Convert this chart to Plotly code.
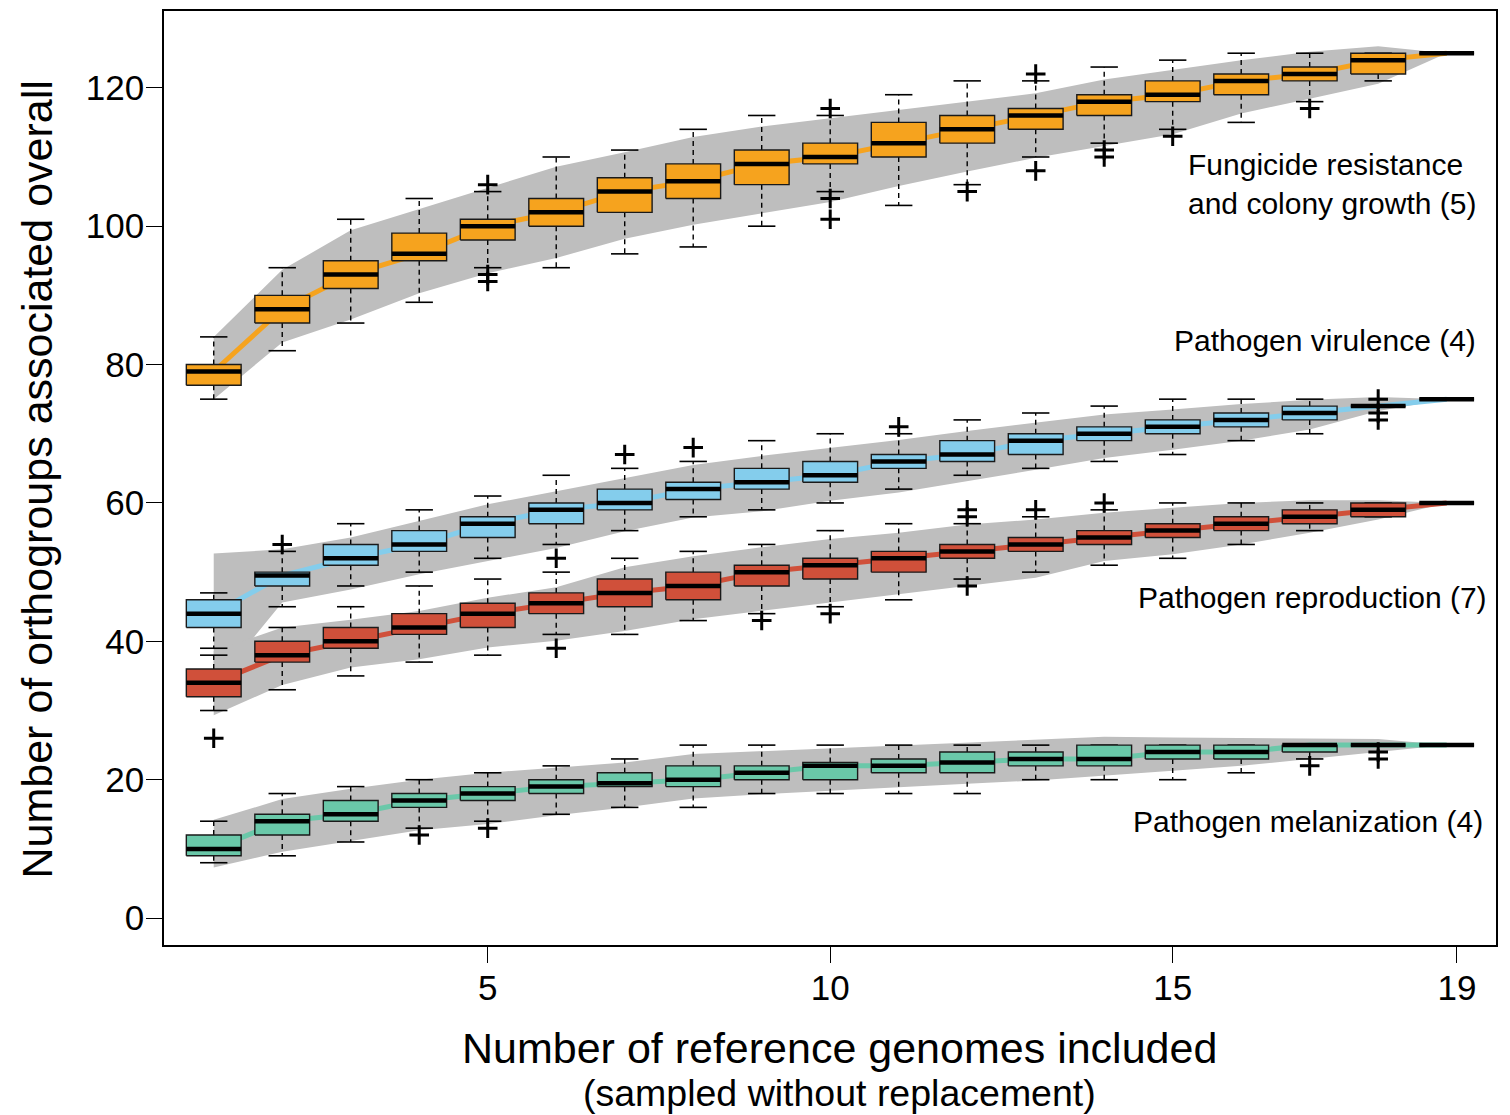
import plotly.graph_objects as go

# ---------------- data ----------------
positions = list(range(1, 20))

# Fungicide resistance and colony growth (orange)
fung_q1 = [77, 86, 91, 95, 98, 100, 102, 104, 106, 109, 110, 112, 114, 116, 118, 119, 121, 122, 125]
fung_med = [79, 88, 93, 96, 100, 102, 105, 106.5, 109, 110, 112, 114, 116, 118, 119, 121, 122, 124, 125]
fung_q3 = [80, 90, 95, 99, 101, 104, 107, 109, 111, 112, 115, 116, 117, 119, 121, 122, 123, 125, 125]
fung_lo = [75, 82, 86, 89, 94, 94, 96, 97, 100, 105, 103, 106, 110, 112, 114, 115, 118, 121, 125]
fung_hi = [84, 94, 101, 104, 105, 110, 111, 114, 116, 116, 119, 121, 121, 123, 124, 125, 125, 125, 125]
fung_out = {5: [106, 93, 92], 10: [117, 104, 101], 12: [105], 13: [122, 108], 14: [111, 110], 15: [113], 17: [117]}
fung_band_hi = [84, 93.7, 99.4, 102.5, 105.5, 108.6, 110.7, 112.9, 114.4, 115.6, 116.9, 118, 119.2, 121.2, 122.6, 124, 125.2, 126, 125]
fung_band_lo = [75, 83.2, 86.5, 90.3, 93.2, 95.4, 98.2, 100.2, 101.9, 103.5, 105.8, 107.9, 109.9, 111.6, 113.3, 116.3, 118.4, 120.6, 125]

# Pathogen virulence (blue)
vir_q1 = [42, 48, 51, 53, 55, 57, 59, 60.5, 62, 63, 65, 66, 67, 69, 70, 71, 72, 74, 75]
vir_med = [44, 49.5, 52, 54, 57, 59, 60, 62, 63, 64, 66, 67, 69, 70, 71, 72, 73, 74, 75]
vir_q3 = [46, 50, 54, 56, 58, 60, 62, 63, 65, 66, 67, 69, 70, 71, 72, 73, 74, 74, 75]
vir_lo = [39, 45, 48, 50, 52, 54, 56, 58, 59, 60, 62, 64, 65, 66, 67, 69, 70, 74, 75]
vir_hi = [47, 53, 57, 59, 61, 64, 65, 66, 69, 70, 70, 72, 73, 74, 75, 75, 75, 74, 75]
vir_out = {2: [54], 7: [67], 8: [68], 11: [71], 18: [75, 73, 72]}
vir_band_hi = [52.7, 53.3, 55, 57.4, 59.8, 61.7, 63.6, 65.5, 66.8, 67.9, 69.1, 70.4, 71.6, 72.8, 73.5, 74.3, 74.9, 75.3, 75]
vir_band_lo = [33.5, 45.6, 47.5, 49.7, 51.6, 53.5, 55.9, 57.9, 58.8, 60.3, 61.5, 63.2, 64.8, 66.5, 67.7, 69, 70.6, 73.3, 75]

# Pathogen reproduction (red)
rep_q1 = [32, 37, 39, 41, 42, 44, 45, 46, 48, 49, 50, 52, 53, 54, 55, 56, 57, 58, 60]
rep_med = [34, 38, 40, 42, 44, 45.5, 47, 48, 50, 51, 52, 53, 54, 55, 56, 57, 58, 59, 60]
rep_q3 = [36, 40, 42, 44, 45.5, 47, 49, 50, 51, 52, 53, 54, 55, 56, 57, 58, 59, 60, 60]
rep_lo = [30, 33, 35, 37, 38, 41, 41, 43, 44, 45, 46, 49, 50, 51, 52, 54, 56, 58, 60]
rep_hi = [38, 42, 45, 48, 49, 50, 52, 53, 54, 56, 57, 57, 58, 59, 60, 60, 60, 60, 60]
rep_out = {1: [26], 6: [52, 39], 9: [43], 10: [44], 12: [59, 58, 48], 13: [59], 14: [60]}
rep_band_hi = [38.6, 42, 43.1, 44.4, 46.3, 47.8, 50.7, 52.3, 53.6, 54.8, 55.7, 56.9, 57.6, 58.6, 59.3, 60, 60.4, 60.4, 60]
rep_band_lo = [29.3, 33.7, 36.2, 37.4, 39.1, 40.1, 41.5, 43.2, 44.4, 45.6, 46.8, 48, 49.2, 51.6, 52.6, 54, 55.7, 57.6, 60]

# Pathogen melanization (green)
mel_q1 = [9, 12, 14, 16, 17, 18, 19, 19, 20, 20, 21, 21, 22, 22, 23, 23, 24, 25, 25]
mel_med = [10, 14, 15, 17, 18, 19, 19.5, 20, 21, 22, 22, 22.5, 23, 23, 24, 24, 25, 25, 25]
mel_q3 = [12, 15, 17, 18, 19, 20, 21, 22, 22, 22.5, 23, 24, 24, 25, 25, 25, 25, 25, 25]
mel_lo = [8, 9, 11, 13, 14, 15, 16, 16, 18, 18, 18, 18, 20, 20, 20, 21, 23, 25, 25]
mel_hi = [14, 18, 19, 20, 21, 22, 23, 25, 25, 25, 25, 25, 25, 25, 25, 25, 25, 25, 25]
mel_out = {4: [12], 5: [13], 17: [22], 18: [24, 23]}
mel_band_hi = [14.2, 17.2, 18.7, 20, 21, 21.8, 22.5, 23.7, 24.1, 24.5, 24.9, 25.4, 25.7, 26.2, 26.1, 26, 25.9, 25.9, 25]
mel_band_lo = [7.3, 9.6, 11.2, 12.7, 13.6, 14.85, 16, 17.3, 17.9, 18.5, 18.9, 19.4, 19.9, 20.6, 21.3, 22, 23, 24, 25]

x_tick_vals = [5, 10, 15, 19.15]
x_tick_text = ["5", "10", "15", "19"]
y_tick_vals = [0, 20, 40, 60, 80, 100, 120]

labels = {
    "fung": "Fungicide resistance<br>and colony growth (5)",
    "vir": "Pathogen virulence (4)",
    "rep": "Pathogen reproduction (7)",
    "mel": "Pathogen melanization (4)",
}

# ---------------- styling ----------------
FONT = "Liberation Sans, Arial, Helvetica, sans-serif"
BAND = "#BEBEBE"
HALF_BOX = 0.4
HALF_CAP = 0.2

series = [
    dict(key="fung", color="#F6A31E", q1=fung_q1, med=fung_med, q3=fung_q3, lo=fung_lo, hi=fung_hi,
         out=fung_out, blo=fung_band_lo, bhi=fung_band_hi),
    dict(key="vir", color="#84CDEC", q1=vir_q1, med=vir_med, q3=vir_q3, lo=vir_lo, hi=vir_hi,
         out=vir_out, blo=vir_band_lo, bhi=vir_band_hi),
    dict(key="rep", color="#D0503A", q1=rep_q1, med=rep_med, q3=rep_q3, lo=rep_lo, hi=rep_hi,
         out=rep_out, blo=rep_band_lo, bhi=rep_band_hi),
    dict(key="mel", color="#6AC8A9", q1=mel_q1, med=mel_med, q3=mel_q3, lo=mel_lo, hi=mel_hi,
         out=mel_out, blo=mel_band_lo, bhi=mel_band_hi),
]

fig = go.Figure()

# 1. grey envelopes
for s in series:
    fig.add_trace(go.Scatter(
        x=positions + positions[::-1], y=s["bhi"] + s["blo"][::-1],
        mode="lines", fill="toself", fillcolor=BAND, line=dict(width=0, color=BAND),
        hoverinfo="skip", showlegend=False))

# 2. coloured median lines
for s in series:
    fig.add_trace(go.Scatter(x=positions, y=s["med"], mode="lines",
                             line=dict(color=s["color"], width=5), showlegend=False, hoverinfo="skip"))

# 3. whiskers (dashed) and staples
for s in series:
    wx, wy, cx, cy = [], [], [], []
    for x, a, b, l, h in zip(positions, s["q1"], s["q3"], s["lo"], s["hi"]):
        if h > b:
            wx += [x, x, None]; wy += [b, h, None]
        if l < a:
            wx += [x, x, None]; wy += [a, l, None]
        cx += [x - HALF_CAP, x + HALF_CAP, None, x - HALF_CAP, x + HALF_CAP, None]
        cy += [h, h, None, l, l, None]
    fig.add_trace(go.Scatter(x=wx, y=wy, mode="lines", line=dict(color="black", width=1.4, dash="5px,4px"),
                             showlegend=False, hoverinfo="skip"))
    fig.add_trace(go.Scatter(x=cx, y=cy, mode="lines", line=dict(color="black", width=1.6),
                             showlegend=False, hoverinfo="skip"))

# 4. boxes
for s in series:
    bx, by = [], []
    for x, a, b in zip(positions, s["q1"], s["q3"]):
        bx += [x - HALF_BOX, x + HALF_BOX, x + HALF_BOX, x - HALF_BOX, x - HALF_BOX, None]
        by += [a, a, b, b, a, None]
    fig.add_trace(go.Scatter(x=bx, y=by, mode="lines", fill="toself", fillcolor=s["color"],
                             line=dict(color="#1a1a1a", width=1.4), showlegend=False, hoverinfo="skip"))

# 5. thick medians
for s in series:
    mx, my = [], []
    for x, m in zip(positions, s["med"]):
        mx += [x - HALF_BOX, x + HALF_BOX, None]
        my += [m, m, None]
    fig.add_trace(go.Scatter(x=mx, y=my, mode="lines", line=dict(color="black", width=4.5),
                             showlegend=False, hoverinfo="skip"))

# 6. outliers
for s in series:
    ox, oy = [], []
    for x, vals in s["out"].items():
        for v in vals:
            ox.append(x); oy.append(v)
    fig.add_trace(go.Scatter(x=ox, y=oy, mode="markers",
                             marker=dict(symbol="cross-thin", size=14, line=dict(color="black", width=3)),
                             showlegend=False, hoverinfo="skip"))

# ---------------- layout ----------------
L, R, T, B = 164, 14, 9, 170
W, H = 1510, 1115
x_range = [0.274, 19.72]
y_range = [-3.89, 131.1]


def px_to_x(px):
    return x_range[0] + (px - L) / (W - L - R) * (x_range[1] - x_range[0])


def px_to_y(py):
    return y_range[0] + ((H - B) - py) / (H - B - T) * (y_range[1] - y_range[0])


ANN_SIZE = 30
annotations = [
    dict(x=px_to_x(1186), y=px_to_y(182), text=labels["fung"], xanchor="left", yanchor="middle", align="left",
         font=dict(size=ANN_SIZE, color="black", family=FONT), showarrow=False),
    dict(x=px_to_x(1325), y=px_to_y(339), text=labels["vir"], xanchor="center", yanchor="middle",
         font=dict(size=ANN_SIZE, color="black", family=FONT), showarrow=False),
    dict(x=px_to_x(1312), y=px_to_y(597), text=labels["rep"], xanchor="center", yanchor="middle",
         font=dict(size=ANN_SIZE, color="black", family=FONT), showarrow=False),
    dict(x=px_to_x(1308), y=px_to_y(821), text=labels["mel"], xanchor="center", yanchor="middle",
         font=dict(size=ANN_SIZE, color="black", family=FONT), showarrow=False),
    dict(xref="paper", yref="paper", x=(839.5 - L) / (W - L - R), y=-(1048 - (H - B)) / (H - B - T),
         text="Number of reference genomes included", xanchor="center", yanchor="middle",
         font=dict(size=43, color="black", family=FONT), showarrow=False),
    dict(xref="paper", yref="paper", x=(839 - L) / (W - L - R), y=-(1093 - (H - B)) / (H - B - T),
         text="(sampled without replacement)", xanchor="center", yanchor="middle",
         font=dict(size=37.5, color="black", family=FONT), showarrow=False),
    dict(xref="paper", yref="paper", x=-(L - 37) / (W - L - R), y=((H - B) - 478.5) / (H - B - T),
         text="Number of orthogroups associated overall", textangle=-90, xanchor="center", yanchor="middle",
         font=dict(size=43, color="black", family=FONT), showarrow=False),
]

fig.update_layout(
    width=W, height=H,
    margin=dict(l=L, r=R, t=T, b=B),
    paper_bgcolor="white", plot_bgcolor="white",
    showlegend=False,
    font=dict(family=FONT, color="black"),
    annotations=annotations,
    xaxis=dict(range=x_range, tickvals=x_tick_vals, ticktext=x_tick_text, ticks="outside", ticklen=16,
               tickwidth=1.3, tickcolor="black", showgrid=False, zeroline=False, showline=True,
               linecolor="black", linewidth=1.5, mirror=True, tickfont=dict(size=35, family=FONT),
               ticklabelstandoff=-5),
    yaxis=dict(range=y_range, tickvals=y_tick_vals, ticks="outside", ticklen=16, tickwidth=1.3,
               tickcolor="black", showgrid=False, zeroline=False, showline=True, linecolor="black",
               linewidth=1.5, mirror=True, tickfont=dict(size=35, family=FONT), ticklabelstandoff=-5),
)

fig.write_html("out.html")
